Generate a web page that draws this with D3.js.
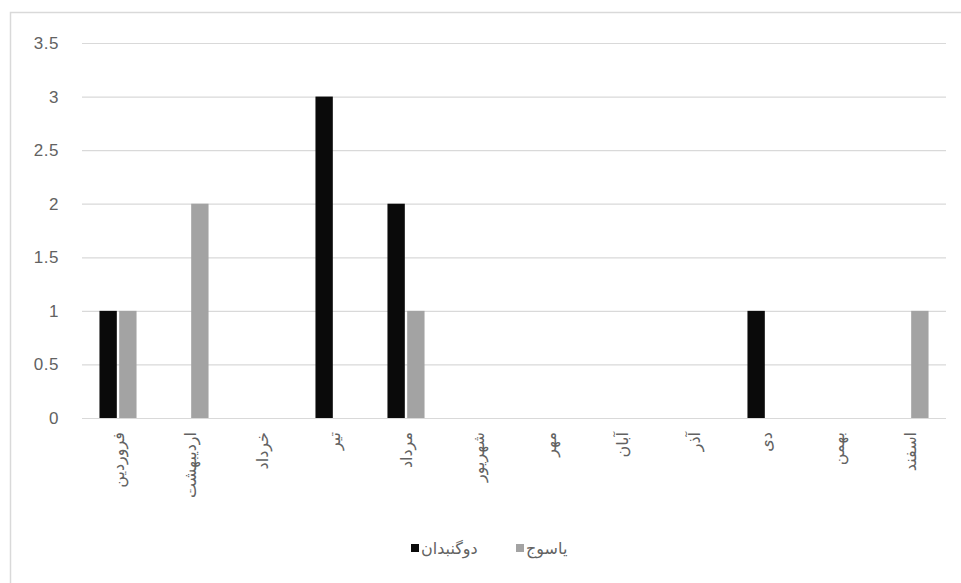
<!DOCTYPE html>
<html><head><meta charset="utf-8">
<script src="https://cdn.jsdelivr.net/npm/d3@7"></script>
<style>html,body{margin:0;padding:0;background:#fff;}</style>
</head><body>
<svg id="c" width="961" height="583"></svg>
<script>
const months = ["فروردین","اردیبهشت","خرداد","تیر","مرداد","شهریور","مهر","آبان","آذر","دی","بهمن","اسفند"];
const seriesNames = ["دوگنبدان","یاسوج"];
const dogonbadan = [1,0,0,3,2,0,0,0,0,1,0,0];
const yasuj = [1,2,0,0,1,0,0,0,0,0,0,1];
const yTicks = [0,0.5,1,1.5,2,2.5,3,3.5];
const colors = ["#0a0a0a","#a3a3a3"];

const svg = d3.select("#c");
const font = "'Liberation Sans', 'DejaVu Sans', sans-serif";
const textColor = "#626262";

// chart border
svg.append("rect").attr("x",10.5).attr("y",12.5).attr("width",980).attr("height",600)
  .attr("fill","#fff").attr("stroke","#d9d9d9").attr("stroke-width",1.5);

const x = d3.scaleBand().domain(months).range([82,946]).paddingInner(0.485).paddingOuter(0.2425);
const xs = d3.scaleBand().domain(seriesNames).range([0,x.bandwidth()]).paddingInner(0.12);
const y = d3.scaleLinear().domain([0,3.5]).range([418,43]);

// gridlines
const gy = d3.axisLeft(y).tickValues(yTicks).tickSize(-(946-82)).tickFormat("");
const g = svg.append("g").attr("transform","translate(82,0)").call(gy);
g.select(".domain").remove();
g.selectAll("line").attr("stroke","#d9d9d9").attr("stroke-width",1.2);

// y labels
const yl = svg.append("g").attr("transform","translate(59,0)")
  .call(d3.axisLeft(y).tickValues(yTicks).tickSize(0).tickPadding(0).tickFormat(d=>String(d)));
yl.select(".domain").remove();
yl.selectAll("text").attr("font-family",font).attr("font-size",17).attr("fill",textColor)
  .attr("letter-spacing","0.5px");

// bars
const data = months.map((m,i)=>({m, vals:[dogonbadan[i], yasuj[i]]}));
const grp = svg.append("g").selectAll("g").data(data).join("g")
  .attr("transform",d=>`translate(${x(d.m)},0)`);
grp.selectAll("rect").data(d=>d.vals.map((v,j)=>({v, s:seriesNames[j], j})))
  .join("rect")
  .attr("x",d=>xs(d.s)).attr("width",xs.bandwidth())
  .attr("y",d=>y(d.v)).attr("height",d=>y(0)-y(d.v))
  .attr("fill",d=>colors[d.j]);

// x labels
const xa = svg.append("g").attr("transform","translate(0,418)")
  .call(d3.axisBottom(x).tickSize(0).tickPadding(0));
xa.select(".domain").remove();
xa.selectAll("text")
  .attr("font-family",font).attr("font-size",16).attr("fill",textColor)
  .attr("text-anchor","end").attr("dy","0.35em")
  .attr("transform","translate(0,14) rotate(-90)").attr("y",0).attr("x",0);

// legend
const leg = [
  {name:seriesNames[0], c:colors[0], sx:411, tx:421},
  {name:seriesNames[1], c:colors[1], sx:516, tx:526}
];
const lg = svg.append("g");
lg.selectAll("rect").data(leg).join("rect")
  .attr("x",d=>d.sx).attr("y",544).attr("width",8).attr("height",8).attr("fill",d=>d.c);
lg.selectAll("text").data(leg).join("text")
  .attr("x",d=>d.tx).attr("y",548).attr("dy","0.35em")
  .attr("text-anchor","start")
  .attr("font-family",font).attr("font-size",16).attr("fill",textColor)
  .text(d=>d.name);
</script>
</body></html>
